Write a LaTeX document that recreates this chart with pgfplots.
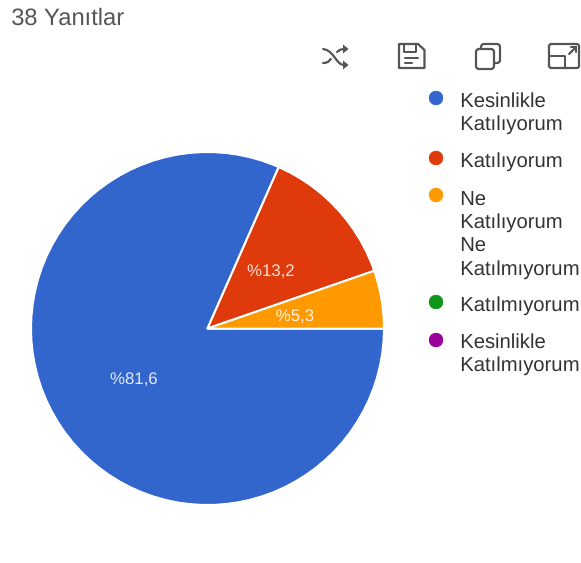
\documentclass[border=0pt]{standalone}
\usepackage{pgfplots}
\pgfplotsset{compat=1.18}
\usepackage{fontspec}
\setmainfont{Liberation Sans}
\definecolor{cBlue}{HTML}{3366CC}
\definecolor{cRed}{HTML}{DF3A0C}
\definecolor{cOrange}{HTML}{FF9900}
\definecolor{cGreen}{HTML}{109618}
\definecolor{cPurple}{HTML}{990099}
\definecolor{cTxt}{HTML}{333333}
\definecolor{cIcon}{HTML}{555555}
\begin{document}
\begin{tikzpicture}
\path[use as bounding box] (0,0) rectangle (435.75pt,421.5pt);
\begin{axis}[
  at={(0,0)}, anchor=south west,
  scale only axis, width=435.75pt, height=421.5pt,
  xmin=-207.5, xmax=373.5, ymin=-233.5, ymax=328.5,
  hide axis, clip=false]
% Kesinlikle Katiliyorum 81.6 %
\addplot[data cs=polar, fill=cBlue, draw=white, line width=1.5pt, line join=round] coordinates {
(0,0) (0,176.5) (-4,176.5) (-8,176.5) (-12,176.5) (-16,176.5) (-20,176.5) (-24,176.5) (-28,176.5) (-32,176.5) (-36,176.5)
(-40,176.5) (-44,176.5) (-48,176.5) (-52,176.5) (-56,176.5) (-60,176.5) (-64,176.5) (-68,176.5) (-72,176.5) (-76,176.5)
(-80,176.5) (-84,176.5) (-88,176.5) (-92,176.5) (-96,176.5) (-100,176.5) (-104,176.5) (-108,176.5) (-112,176.5) (-116,176.5)
(-120,176.5) (-124,176.5) (-128,176.5) (-132,176.5) (-136,176.5) (-140,176.5) (-144,176.5) (-148,176.5) (-152,176.5) (-156,176.5)
(-160,176.5) (-164,176.5) (-168,176.5) (-172,176.5) (-176,176.5) (-180,176.5) (-184,176.5) (-188,176.5) (-192,176.5) (-196,176.5)
(-200,176.5) (-204,176.5) (-208,176.5) (-212,176.5) (-216,176.5) (-220,176.5) (-224,176.5) (-228,176.5) (-232,176.5) (-236,176.5)
(-240,176.5) (-244,176.5) (-248,176.5) (-252,176.5) (-256,176.5) (-260,176.5) (-264,176.5) (-268,176.5) (-272,176.5) (-276,176.5)
(-280,176.5) (-284,176.5) (-288,176.5) (-292,176.5) (-293.8,176.5) (0,0)} -- cycle;
% Katiliyorum 13.2 %
\addplot[data cs=polar, fill=cRed, draw=white, line width=1.5pt, line join=round] coordinates {
(0,0) (66.2,176.5) (62,176.5) (58,176.5) (54,176.5) (50,176.5) (46,176.5) (42,176.5) (38,176.5) (34,176.5) (30,176.5) (26,176.5) (22,176.5) (19.1,176.5) (0,0)} -- cycle;
% Ne Katiliyorum Ne Katilmiyorum 5.3 %
\addplot[data cs=polar, fill=cOrange, draw=white, line width=1.5pt, line join=round] coordinates {
(0,0) (19.1,176.5) (16,176.5) (12,176.5) (8,176.5) (4,176.5) (0,176.5) (0,0)} -- cycle;
% legend markers
\addplot[only marks, mark=*, mark size=5.2pt, cBlue] coordinates {(228.5,230.5)};
\addplot[only marks, mark=*, mark size=5.2pt, cRed] coordinates {(228.5,170.5)};
\addplot[only marks, mark=*, mark size=5.2pt, cOrange] coordinates {(228.5,133.5)};
\addplot[only marks, mark=*, mark size=5.2pt, cGreen] coordinates {(228.5,26.5)};
\addplot[only marks, mark=*, mark size=5.2pt, cPurple] coordinates {(228.5,-11.5)};
\end{axis}
\begin{scope}[x=0.75pt,y=-0.75pt,yshift=421.5pt]
\tikzset{lg/.style={anchor=base west,inner sep=0pt,text=cTxt,font=\fontsize{15.2pt}{18pt}\selectfont},
 pl/.style={anchor=center,inner sep=0pt,text=white,opacity=.85,font=\fontsize{12.6pt}{15pt}\selectfont},
 ic/.style={draw=cIcon,line width=1.6pt,line join=round,line cap=round}}
\node[anchor=base west,inner sep=0pt,text=cIcon,font=\fontsize{17.8pt}{20pt}\selectfont] at (11,25) {38 Yanıtlar};
\node[pl] at (134,380) {\%81,6};
\node[pl] at (271,272) {\%13,2};
\node[pl] at (295,317) {\%5,3};
\node[lg] at (460,107) {Kesinlikle};
\node[lg] at (460,130) {Katılıyorum};
\node[lg] at (460,167) {Katılıyorum};
\node[lg] at (460,205) {Ne};
\node[lg] at (460,228) {Katılıyorum};
\node[lg] at (460,251) {Ne};
\node[lg] at (460,275) {Katılmıyorum};
\node[lg] at (460,311) {Katılmıyorum};
\node[lg] at (460,348) {Kesinlikle};
\node[lg] at (460,371) {Katılmıyorum};
% shuffle
\draw[ic] (323,49) .. controls (334,50) and (336,65) .. (344,65);
\draw[ic] (323,63) .. controls (328,63) and (329,61) .. (331,59);
\draw[ic] (337,52) .. controls (339,50) and (341,49) .. (344,49);
\fill[cIcon] (343,44.5) -- (348.5,49) -- (343,53.5) -- cycle;
\fill[cIcon] (343,60.5) -- (348.5,65) -- (343,69.5) -- cycle;
% save
\draw[ic] (399,44) -- (418,44) -- (424.5,50) -- (424.5,68) -- (399,68) -- cycle;
\draw[ic] (404,44) -- (404,52) -- (416,52) -- (416,44);
\draw[ic] (405,58) -- (418,58);
\draw[ic] (405,63) -- (412,63);
% copy
\draw[ic,rounded corners=2pt] (476,49) rectangle (494,69);
\draw[ic,rounded corners=2pt] (481,49) -- (481,44) -- (500,44) -- (500,63) -- (494,63);
% expand
\draw[ic,rounded corners=1.5pt] (549,44) rectangle (579,68);
\draw[ic] (549,56) -- (565,56) -- (565,68);
\draw[ic] (569,54) -- (576,47);
\draw[ic] (571,47) -- (576,47) -- (576,52);
\end{scope}
\end{tikzpicture}
\end{document}
